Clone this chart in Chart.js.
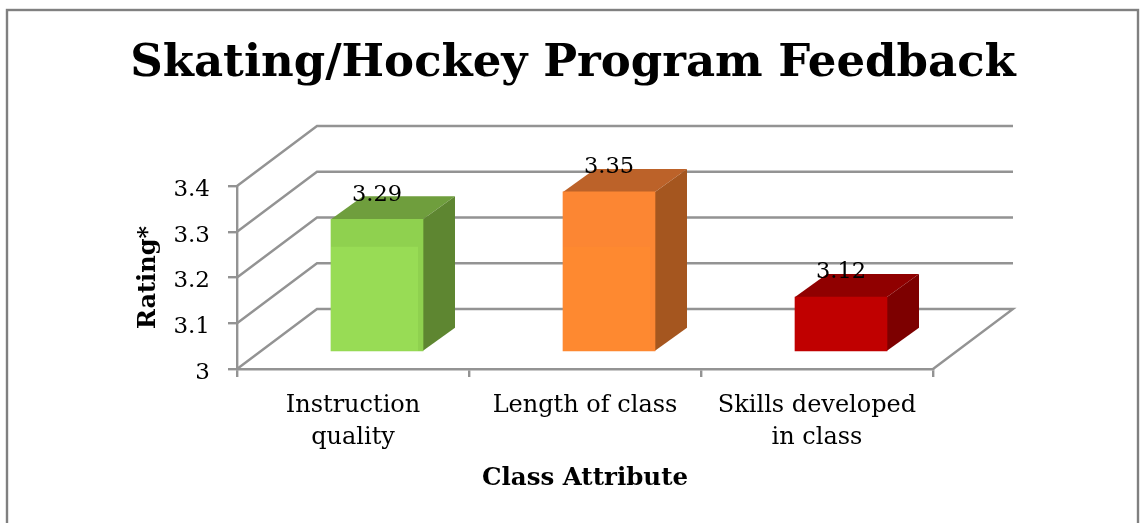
<!DOCTYPE html>
<html>
<head>
<meta charset="utf-8">
<style>html,body{margin:0;padding:0;background:#fff}canvas{display:block}</style>
<script src="https://cdn.jsdelivr.net/npm/chart.js@4"></script>
</head>
<body>
<canvas id="c" width="1140" height="523"></canvas>
<script>
const chartTitle = "Skating/Hockey Program Feedback";
const categories = [["Instruction","quality"],"Length of class",["Skills developed","in class"]];
const ratings = [3.29, 3.35, 3.12];
const yTicks = [3, 3.1, 3.2, 3.3, 3.4];
const frontColors = ["#8fd14f","#fc8633","#c00000"];
const innerColors = ["#98dc55","#fe8930","#c00000"];
const topColors = ["#6f9e3d","#bc6229","#900000"];
const sideColors = ["#5e8631","#a5561f","#7d0000"];
const SERIF = "'DejaVu Serif', serif";
const GREY = "#939393";

const wall = {dx: 80, dy: -60};
const barShift = {dx: 24, dy: -17};
const barDepth = {dx: 32, dy: -23};

const depthPlugin = {
  id: "depth",
  beforeDraw(chart) {
    const c = chart.ctx;
    c.save();
    c.strokeStyle = "#808080";
    c.lineWidth = 2.4;
    c.strokeRect(7, 10, 1131, 560);
    c.restore();
  },
  beforeDatasetsDraw(chart) {
    const c = chart.ctx, y = chart.scales.y, a = chart.chartArea;
    c.save();
    c.strokeStyle = GREY;
    c.lineWidth = 2.4;
    yTicks.forEach(v => {
      const py = y.getPixelForValue(v);
      c.beginPath();
      c.moveTo(a.left, py);
      c.lineTo(a.left + wall.dx, py + wall.dy);
      c.lineTo(a.right + wall.dx, py + wall.dy);
      if (v === yTicks[0]) c.lineTo(a.right, py);
      c.stroke();
    });
    chart.getDatasetMeta(0).data.forEach((b, i) => {
      const l = b.x - b.width / 2 + barShift.dx, r = b.x + b.width / 2 + barShift.dx;
      const t = b.y + barShift.dy, bt = b.base + barShift.dy;
      c.fillStyle = topColors[i];
      c.beginPath();
      c.moveTo(l, t); c.lineTo(l + barDepth.dx, t + barDepth.dy);
      c.lineTo(r + barDepth.dx, t + barDepth.dy); c.lineTo(r, t);
      c.closePath(); c.fill();
      c.fillStyle = sideColors[i];
      c.beginPath();
      c.moveTo(r, t); c.lineTo(r + barDepth.dx, t + barDepth.dy);
      c.lineTo(r + barDepth.dx, bt + barDepth.dy); c.lineTo(r, bt);
      c.closePath(); c.fill();
    });
    c.restore();
    c.save();
    c.translate(barShift.dx, barShift.dy);
  },
  afterDatasetsDraw(chart) {
    const c = chart.ctx;
    c.restore();
    c.save();
    const bandBottom = chart.scales.y.getPixelForValue(3.23) + barShift.dy;
    chart.getDatasetMeta(0).data.forEach((b, i) => {
      const l = b.x - b.width / 2 + barShift.dx;
      const bt = b.base + barShift.dy;
      if (b.y + barShift.dy < bandBottom && bt > bandBottom) {
        c.fillStyle = innerColors[i];
        c.fillRect(l, bandBottom, b.width - 5, bt - bandBottom);
      }
      c.fillStyle = "#000";
      c.font = "22.5px " + SERIF;
      c.textAlign = "center";
      c.textBaseline = "middle";
      c.fillText(ratings[i].toFixed(2), b.x + barShift.dx, b.y + barShift.dy - 24.5);
    });
    c.restore();
  }
};

new Chart(document.getElementById("c"), {
  type: "bar",
  data: {
    labels: categories,
    datasets: [{
      data: ratings,
      base: 3,
      backgroundColor: frontColors,
      barThickness: 92,
      clip: false
    }]
  },
  plugins: [depthPlugin],
  options: {
    responsive: false,
    animation: false,
    layout: {padding: {left: 6, right: 0, top: 0, bottom: 0}},
    plugins: {
      legend: {display: false},
      tooltip: {enabled: false},
      title: {
        display: true,
        text: chartTitle,
        color: "#000",
        font: {family: SERIF, size: 45, weight: "bold", lineHeight: 1.2},
        padding: {top: 37, bottom: 95}
      }
    },
    scales: {
      x: {
        grid: {drawOnChartArea: false, color: GREY, lineWidth: 2.4, tickLength: 8, tickColor: GREY},
        border: {color: GREY, width: 2.4},
        ticks: {color: "#000", maxRotation: 0, autoSkip: false, padding: 13,
          font: {family: SERIF, size: 24, lineHeight: 1.33}},
        title: {display: true, text: "Class Attribute", color: "#000",
          font: {family: SERIF, size: 24.5, weight: "bold"}, padding: {top: 4, bottom: 30}},
        afterFit(s) { s.height = 154; }
      },
      y: {
        min: 3, max: 3.4,
        afterBuildTicks(s) { s.ticks = yTicks.map(v => ({value: v})); },
        grid: {drawOnChartArea: false, color: GREY, lineWidth: 2.4, tickLength: 9, tickColor: GREY},
        border: {color: GREY, width: 2.4},
        ticks: {color: "#000", padding: 18, callback: v => ["", String(v)],
          font: {family: SERIF, size: 23, lineHeight: 0.35}},
        title: {display: true, text: "Rating*", color: "#000",
          font: {family: SERIF, size: 24, weight: "bold"}, padding: {top: 128, bottom: 0}},
        afterFit(s) { s.width = 231; }
      },
      spacer: {
        type: "linear", position: "right", display: true,
        ticks: {display: false}, grid: {display: false}, border: {display: false},
        afterFit(s) { s.width = 207; }
      }
    }
  }
});
</script>
</body>
</html>
